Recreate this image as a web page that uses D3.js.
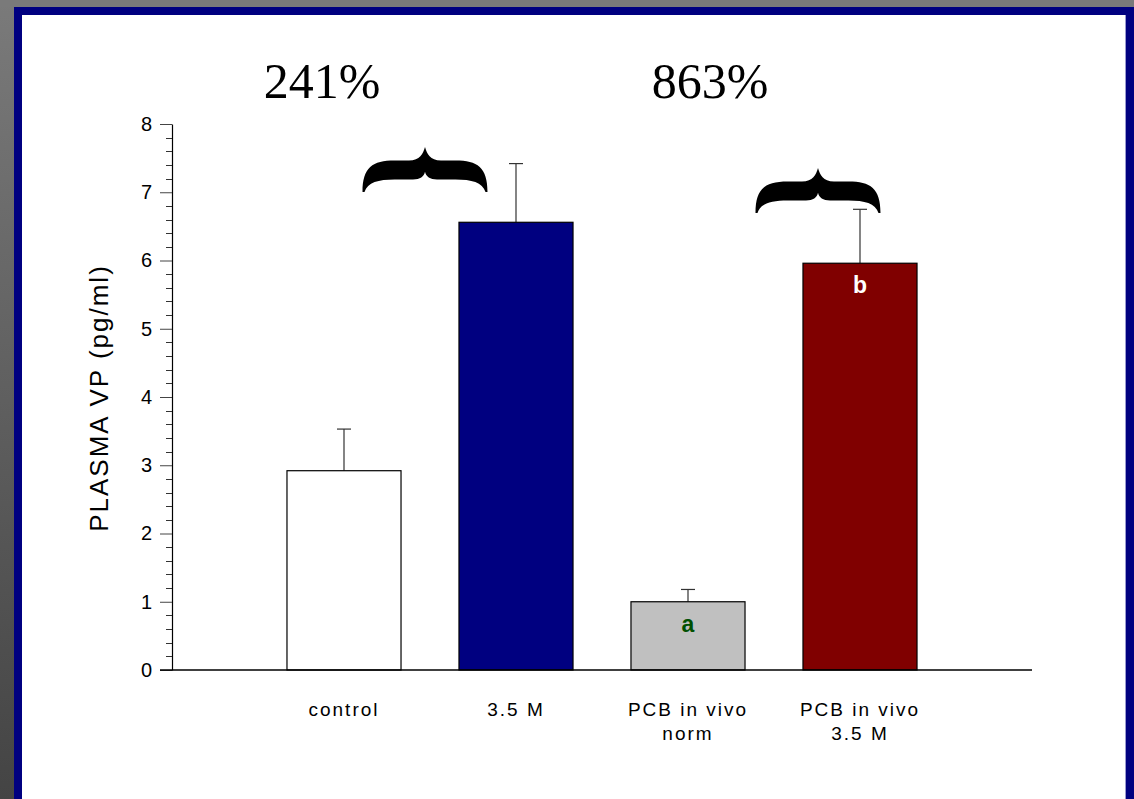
<!DOCTYPE html>
<html>
<head>
<meta charset="utf-8">
<script src="https://cdn.jsdelivr.net/npm/d3@7"></script>
<style>
  html, body { margin: 0; padding: 0; background: #fff; }
  svg { display: block; }
</style>
</head>
<body>
<div id="chart"></div>
<script>
// data
var categories = ["control", "3.5 M", "PCB in vivo\nnorm", "PCB in vivo\n3.5 M"];
var values = [2.92, 6.56, 1.0, 5.96];
var errors = [0.61, 0.86, 0.18, 0.79];
var fills = ["#ffffff", "#000080", "#c0c0c0", "#800000"];
var barMarks = ["", "", "a", "b"];
var markColors = ["#000", "#000", "#005000", "#ffffff"];
var yTicks = [0, 1, 2, 3, 4, 5, 6, 7, 8];
var percentLabels = ["241%", "863%"];
var percentCats = [0, 2];

// layout of the annotations (offsets from a bar centre)
var percentDx = [-22, 22];
var braceCats = [0, 2];
var braceDx = [81, 130];
var braceTop = [147, 168];

var W = 1134, H = 799;
var svg = d3.select("#chart").append("svg")
    .attr("width", W).attr("height", H);

// frame
var defs = svg.append("defs");
var grad = defs.append("linearGradient").attr("id", "side")
    .attr("x1", 0).attr("y1", 0).attr("x2", 0).attr("y2", 1);
grad.append("stop").attr("offset", "0%").attr("stop-color", "#7a7a7a");
grad.append("stop").attr("offset", "100%").attr("stop-color", "#444444");

svg.append("rect").attr("width", W).attr("height", H).attr("fill", "url(#side)");
svg.append("rect").attr("x", 0).attr("y", 0).attr("width", W).attr("height", 7).attr("fill", "#7a7a7a");
svg.append("rect").attr("x", 14).attr("y", 7).attr("width", W - 14).attr("height", H - 7).attr("fill", "#000080");
svg.append("rect").attr("x", 22).attr("y", 15).attr("width", 1103).attr("height", H - 15).attr("fill", "#ffffff");
svg.append("line").attr("x1", 1125.5).attr("x2", 1125.5).attr("y1", 15).attr("y2", H)
    .attr("stroke", "#9a9ad0").attr("stroke-width", 1);

// scales
var x0 = 172, x1 = 1032;
var y = d3.scaleLinear().domain([0, 8]).range([670, 124]);
var step = (x1 - x0) / 5;
var x = d3.scaleBand().domain(categories)
    .range([x0 + step / 2, x1 - step / 2])
    .paddingInner(0.337).paddingOuter(0.1685);
function cx(c) { return x(c) + x.bandwidth() / 2; }

var g = svg.append("g");

// y axis: major ticks + minor ticks
var yAxis = d3.axisLeft(y).tickValues(yTicks).tickSize(12).tickSizeOuter(0).tickPadding(8)
    .tickFormat(d3.format("d"));
var ya = g.append("g").attr("transform", "translate(" + x0 + ",0)").call(yAxis);
ya.select(".domain").attr("stroke", "#000").attr("stroke-width", 1.2);
ya.selectAll(".tick line").attr("stroke", "#444");
ya.selectAll(".tick text").attr("font-family", "Liberation Sans, Arial, sans-serif")
    .attr("font-size", 20).attr("fill", "#000");

var minor = d3.range(0, 8.01, 0.2).filter(function(v) { return Math.abs(v - Math.round(v)) > 0.01; });
g.append("g").selectAll("line").data(minor).enter().append("line")
    .attr("x1", x0 - 6).attr("x2", x0)
    .attr("y1", function(d) { return Math.round(y(d)) + 0.5; })
    .attr("y2", function(d) { return Math.round(y(d)) + 0.5; })
    .attr("stroke", "#333").attr("stroke-width", 1);

// error bars (drawn behind bars)
var eb = g.append("g").selectAll("g").data(values).enter().append("g");
eb.append("line")
    .attr("x1", function(d, i) { return cx(categories[i]); })
    .attr("x2", function(d, i) { return cx(categories[i]); })
    .attr("y1", function(d) { return y(d); })
    .attr("y2", function(d, i) { return y(d + errors[i]); })
    .attr("stroke", "#333").attr("stroke-width", 1.2);
eb.append("line")
    .attr("x1", function(d, i) { return cx(categories[i]) - 7; })
    .attr("x2", function(d, i) { return cx(categories[i]) + 7; })
    .attr("y1", function(d, i) { return y(d + errors[i]); })
    .attr("y2", function(d, i) { return y(d + errors[i]); })
    .attr("stroke", "#333").attr("stroke-width", 1.2);

// bars
g.append("g").selectAll("rect").data(values).enter().append("rect")
    .attr("x", function(d, i) { return x(categories[i]); })
    .attr("y", function(d) { return y(d); })
    .attr("width", x.bandwidth())
    .attr("height", function(d) { return y(0) - y(d); })
    .attr("fill", function(d, i) { return fills[i]; })
    .attr("stroke", "#000").attr("stroke-width", 1.2);

// x axis line
g.append("line").attr("x1", x0 - 12).attr("x2", x1).attr("y1", y(0)).attr("y2", y(0))
    .attr("stroke", "#000").attr("stroke-width", 1.5);

// category labels
var cl = g.append("g").selectAll("text").data(categories).enter().append("text")
    .attr("x", function(d) { return cx(d); })
    .attr("y", 716)
    .attr("text-anchor", "middle")
    .attr("font-family", "Liberation Sans, Arial, sans-serif")
    .attr("font-size", 19).attr("letter-spacing", 2).attr("fill", "#000");
cl.each(function(d) {
    var t = d3.select(this);
    d.split("\n").forEach(function(line, k) {
        t.append("tspan").attr("x", cx(d)).attr("dy", k ? 24 : 0).text(line);
    });
});

// letters inside bars
g.append("g").selectAll("text").data(values).enter().append("text")
    .attr("x", function(d, i) { return cx(categories[i]); })
    .attr("y", function(d) { return y(d) + 30; })
    .attr("text-anchor", "middle")
    .attr("font-family", "Liberation Sans, Arial, sans-serif")
    .attr("font-weight", "bold").attr("font-size", 23)
    .attr("fill", function(d, i) { return markColors[i]; })
    .text(function(d, i) { return barMarks[i]; });

// y label
g.append("text")
    .attr("transform", "translate(108,398) rotate(-90)")
    .attr("text-anchor", "middle")
    .attr("font-family", "Liberation Sans, Arial, sans-serif")
    .attr("font-size", 26).attr("letter-spacing", 2).attr("fill", "#000")
    .text("PLASMA VP (pg/ml)");

// braces
function bracePath(w, h) {
    var c = w / 2;
    return [
        "M0," + h,
        "C0," + (h * 0.45) + " 10," + (h * 0.3) + " 32," + (h * 0.3),
        "L" + (c - 16) + "," + (h * 0.3),
        "C" + (c - 5) + "," + (h * 0.3) + " " + (c - 2) + "," + (h * 0.15) + " " + c + ",0",
        "C" + (c + 2) + "," + (h * 0.15) + " " + (c + 5) + "," + (h * 0.3) + " " + (c + 16) + "," + (h * 0.3),
        "L" + (w - 32) + "," + (h * 0.3),
        "C" + (w - 10) + "," + (h * 0.3) + " " + w + "," + (h * 0.45) + " " + w + "," + h,
        "L" + (w - 2) + "," + h,
        "C" + (w - 5) + "," + (h * 0.78) + " " + (w - 16) + "," + (h * 0.72) + " " + (w - 32) + "," + (h * 0.72),
        "L" + (c + 12) + "," + (h * 0.72),
        "C" + (c + 5) + "," + (h * 0.72) + " " + (c + 1) + "," + (h * 0.66) + " " + c + "," + (h * 0.55),
        "C" + (c - 1) + "," + (h * 0.66) + " " + (c - 5) + "," + (h * 0.72) + " " + (c - 12) + "," + (h * 0.72),
        "L32," + (h * 0.72),
        "C16," + (h * 0.72) + " 5," + (h * 0.78) + " 2," + h,
        "Z"
    ].join(" ");
}
var braceW = 125, braceH = 45;
braceCats.forEach(function(ci, k) {
    var mid = cx(categories[ci]) + braceDx[k];
    g.append("path")
        .attr("transform", "translate(" + (mid - braceW / 2) + "," + braceTop[k] + ")")
        .attr("d", bracePath(braceW, braceH))
        .attr("fill", "#000");
});

// percent labels above the pairs
percentLabels.forEach(function(txt, k) {
    g.append("text")
        .attr("x", cx(categories[percentCats[k]]) + percentDx[k])
        .attr("y", 98)
        .attr("text-anchor", "middle")
        .attr("font-family", "Liberation Serif, Times New Roman, serif")
        .attr("font-size", 50).attr("fill", "#000")
        .text(txt);
});
</script>
</body>
</html>
